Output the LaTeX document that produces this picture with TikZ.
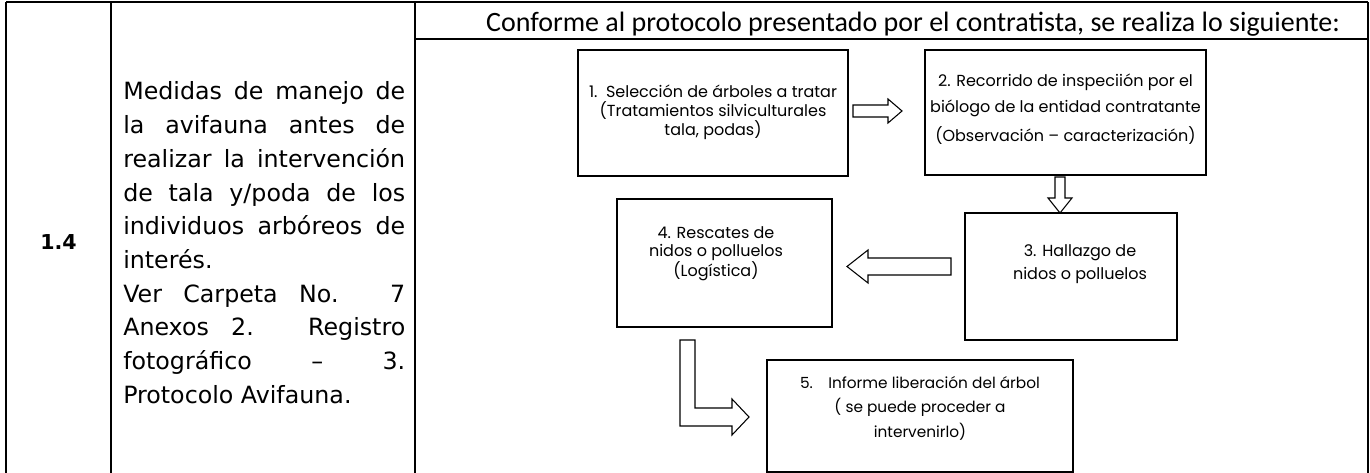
\documentclass[tikz,border=0pt]{standalone}
\usepackage{fontspec}
\setmainfont{DejaVu Sans}
\newfontfamily\headfont{Carlito}
\newfontfamily\boxfont{Poppins}
\begin{document}
\begin{tikzpicture}[x=0.75pt,y=-0.75pt,
  tbl/.style={line width=1.3pt},
  box/.style={draw, line width=1.4pt, inner sep=0pt},
  blk/.style={draw, line width=0.8pt, fill=white},
  btext/.style={font=\boxfont\fontsize{12}{#1}\selectfont, align=center, inner sep=0pt},
  coltext/.style={font=\fontsize{17.8}{20}\selectfont, anchor=base west, inner sep=0pt}]
\useasboundingbox (0,0) rectangle (1370,473);
% table
\draw[tbl] (6,2) -- (1368,2);
\draw[tbl] (6,2) -- (6,473);
\draw[tbl] (111,2) -- (111,473);
\draw[tbl] (415,2) -- (415,473);
\draw[tbl] (1368,2) -- (1368,473);
\draw[tbl] (415,39) -- (1368,39);
% first column
\node[font=\bfseries\fontsize{15.4}{18}\selectfont, anchor=base, inner sep=0pt] (num) at (58.5,250) {1.4};
% second column
\node[coltext] (d1) at (123,100) {\makebox[211.5pt][s]{Medidas de manejo de}};
\node[coltext] (d2) at (123,133.7) {\makebox[211.5pt][s]{la avifauna antes de}};
\node[coltext] (d3) at (123,167.4) {\makebox[211.5pt][s]{realizar la intervención}};
\node[coltext] (d4) at (123,201.1) {\makebox[211.5pt][s]{de tala y/poda de los}};
\node[coltext] (d5) at (123,234.8) {\makebox[211.5pt][s]{individuos arbóreos de}};
\node[coltext] (d6) at (123,268.5) {interés.};
\node[coltext] (d7) at (123,302.2) {\makebox[211.5pt][s]{Ver Carpeta No. 7}};
\node[coltext] (d8) at (123,335.9) {\makebox[211.5pt][s]{Anexos 2. Registro}};
\node[coltext] (d9) at (123,369.6) {\makebox[211.5pt][s]{fotográfico – 3.}};
\node[coltext] (d10) at (123,403.3) {Protocolo Avifauna.};
% header
\node[font=\headfont\fontsize{21}{24}\selectfont, anchor=base, inner sep=0pt] (hdr) at (913,32) {Conforme al protocolo presentado por el contratista, se realiza lo siguiente:};
% boxes
\node[box, minimum width=202.5pt, minimum height=94.5pt] (b1) at (713,113) {};
\node[box, minimum width=210.75pt, minimum height=93.75pt] (b2) at (1065.5,112.5) {};
\node[box, minimum width=159pt, minimum height=95.25pt] (b3) at (1071,276.5) {};
\node[box, minimum width=161.25pt, minimum height=96pt] (b4) at (724.5,263) {};
\node[box, minimum width=229.5pt, minimum height=84pt] (b5) at (920,416) {};
% box texts
\node[btext=14.2pt] (t1) at (713,112) {1.\ \ Selección de árboles a tratar\\(Tratamientos silviculturales\\tala, podas)};
\node[btext=19.5pt] (t2) at (1065.5,109.5) {2. Recorrido de inspeciión por el\\biólogo de la entidad contratante\\[2pt](Observación – caracterización)};
\node[btext=17.3pt] (t3) at (1080,264) {3. Hallazgo de\\nidos o polluelos};
\node[btext=13pt] (t4) at (716,254) {4. Rescates de\\nidos o polluelos\\(Logística)};
\node[btext=18.4pt, font=\boxfont\fontsize{11.5}{18.4}\selectfont] (t5) at (920,408) {5.\quad Informe liberación del árbol\\( se puede proceder a\\intervenirlo)};
% block arrows
\draw[blk] (853,105) -- (888,105) -- (888,99) -- (902,111) -- (888,123) -- (888,117) -- (853,117) -- cycle;
\draw[blk] (1055,177) -- (1065,177) -- (1065,198) -- (1072,198) -- (1060,213) -- (1048,198) -- (1055,198) -- cycle;
\draw[blk] (951,258) -- (868,258) -- (868,250) -- (847,266.5) -- (868,283) -- (868,275) -- (951,275) -- cycle;
\draw[blk] (680,340) -- (695,340) -- (695,408) -- (732,408) -- (732,399) -- (749,417) -- (732,435) -- (732,426) -- (680,426) -- cycle;
\end{tikzpicture}
\end{document}
